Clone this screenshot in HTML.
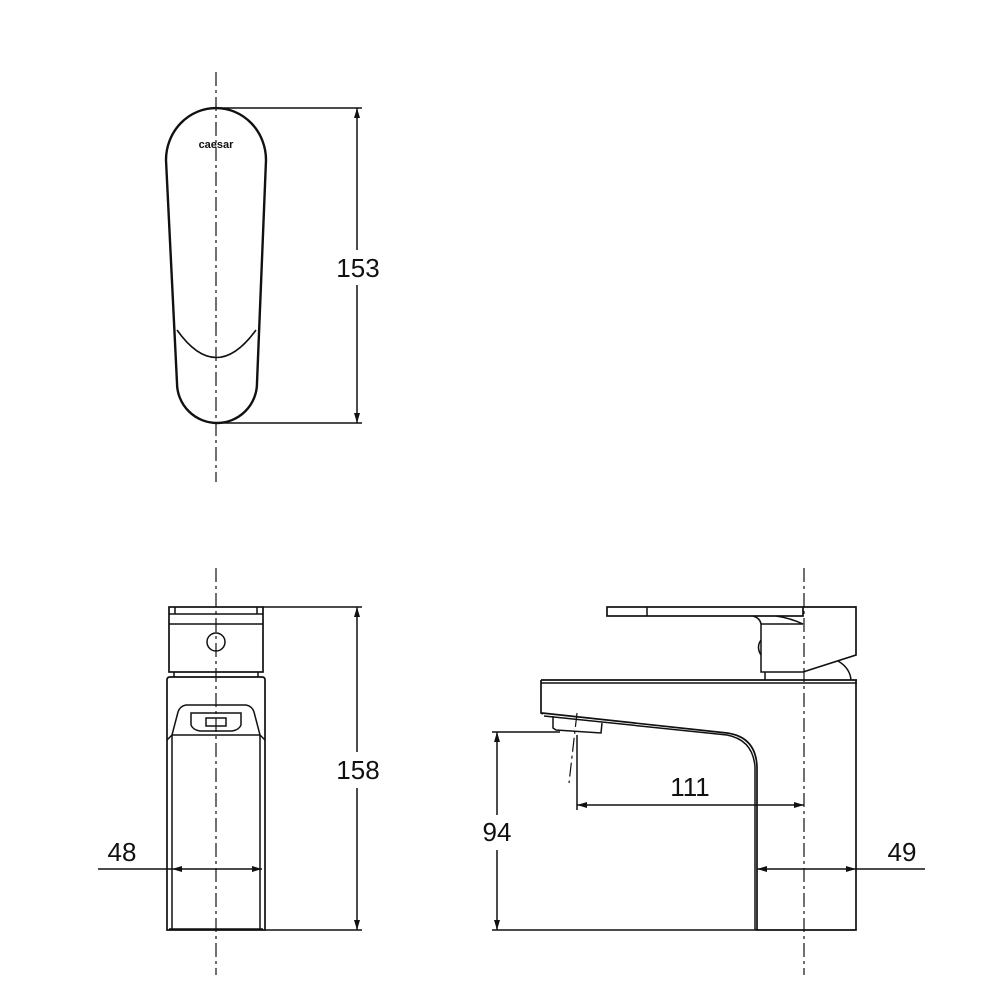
<!DOCTYPE html>
<html><head><meta charset="utf-8"><style>
html,body{margin:0;padding:0;background:#fff}
svg{display:block}
text{font-family:"Liberation Sans",Arial,sans-serif;fill:#111}
</style></head><body>
<svg width="1000" height="1000" viewBox="0 0 1000 1000" xmlns="http://www.w3.org/2000/svg">
<defs>
<marker id="a" viewBox="0 0 10 6" refX="10" refY="3" markerWidth="10" markerHeight="6" markerUnits="userSpaceOnUse" orient="auto-start-reverse"><path d="M0,0 L10,3 L0,6 Z" fill="#111"/></marker>
</defs>
<g fill="none" stroke="#111" stroke-width="1.5">
<g stroke-dasharray="14,4,3,4" stroke-width="1.2">
<line x1="216" y1="72" x2="216" y2="482"/>
<line x1="216" y1="568" x2="216" y2="975"/>
<line x1="804" y1="568" x2="804" y2="975"/>
<line x1="577" y1="713" x2="569" y2="783"/>
</g>
<path d="M166,160 A50,52 0 0 1 266,160 L257,383 A40,40 0 0 1 177,383 Z" stroke-width="2.4"/>
<path d="M177,330 Q216,385 256,330" stroke-width="1.6"/>
<line x1="220" y1="108" x2="362" y2="108"/>
<line x1="220" y1="423" x2="362" y2="423"/>
<line x1="357" y1="108" x2="357" y2="250" marker-start="url(#a)"/>
<line x1="357" y1="285" x2="357" y2="423" marker-end="url(#a)"/>

<rect x="169" y="607" width="94" height="65" stroke-width="1.7"/>
<line x1="169" y1="614" x2="263" y2="614"/>
<line x1="175" y1="607" x2="175" y2="614"/>
<line x1="257" y1="607" x2="257" y2="614"/>
<line x1="169" y1="624" x2="263" y2="624"/>
<circle cx="216" cy="642" r="9"/>
<path d="M174,672 L174,677 M258,672 L258,677"/>
<path d="M167,930 L167,680 Q167,677 170,677 L262,677 Q265,677 265,680 L265,930 Z" stroke-width="1.7"/>
<line x1="172" y1="735" x2="172" y2="930"/>
<line x1="260" y1="735" x2="260" y2="930"/>
<line x1="169" y1="929" x2="263" y2="929"/>
<path d="M167,740 L172,735 L178,712 Q180,706 186,705 L246,705 Q252,706 254,712 L260,735 L265,740"/>
<line x1="172" y1="735" x2="260" y2="735"/>
<path d="M191,713 L191,725 Q193,730 200,731 L232,731 Q239,730 241,725 L241,713 Z"/>
<rect x="206" y="718" width="20" height="8"/>
<line x1="98" y1="869" x2="172" y2="869"/>
<line x1="172" y1="869" x2="262" y2="869" marker-start="url(#a)" marker-end="url(#a)"/>
<line x1="263" y1="607" x2="362" y2="607"/>
<line x1="265" y1="930" x2="362" y2="930"/>
<line x1="357" y1="607" x2="357" y2="752" marker-start="url(#a)"/>
<line x1="357" y1="788" x2="357" y2="930" marker-end="url(#a)"/>

<rect x="607" y="607" width="196" height="9" stroke-width="1.7"/>
<line x1="647" y1="607" x2="647" y2="616"/>
<path d="M753,616 Q760,618 761,624 L761,672 L803,672"/>
<path d="M776,616 Q790,618 803,624 L761,624"/>
<path d="M761,640 Q756,647 761,655"/>
<path d="M803,607 L856,607 L856,655 L803,672" stroke-width="1.7"/>
<path d="M838,661 Q850,668 851,680"/>
<line x1="765" y1="672" x2="765" y2="680"/>
<line x1="541" y1="680" x2="857" y2="680" stroke-width="1.7"/>
<line x1="541" y1="683" x2="857" y2="683"/>
<path d="M541,680 L541,713 L543,714" stroke-width="1.7"/>
<path d="M542,713 L727,733 Q756,737 757,767 L757,930 L856,930 L856,680" stroke-width="1.7"/>
<path d="M544,716 L727,735 Q753,740 755,767 L755,930"/>
<path d="M553,716 L553,728 L556,730 L601,733 L602,723"/>
<line x1="492" y1="732" x2="560" y2="732"/>
<line x1="492" y1="930" x2="757" y2="930"/>
<line x1="497" y1="732" x2="497" y2="815" marker-start="url(#a)"/>
<line x1="497" y1="850" x2="497" y2="930" marker-end="url(#a)"/>
<line x1="577" y1="735" x2="577" y2="810"/>
<line x1="577" y1="805" x2="804" y2="805" marker-start="url(#a)" marker-end="url(#a)"/>
<line x1="757" y1="869" x2="856" y2="869" marker-start="url(#a)" marker-end="url(#a)"/>
<line x1="856" y1="869" x2="925" y2="869"/>
</g>
<text x="216" y="148" font-size="11" font-weight="bold" text-anchor="middle">caesar</text>
<text x="358" y="277" font-size="26" text-anchor="middle">153</text>
<text x="358" y="779" font-size="26" text-anchor="middle">158</text>
<text x="122" y="861" font-size="26" text-anchor="middle">48</text>
<text x="497" y="841" font-size="26" text-anchor="middle">94</text>
<text x="690" y="796" font-size="26" text-anchor="middle">111</text>
<text x="902" y="861" font-size="26" text-anchor="middle">49</text>
</svg>
</body></html>
